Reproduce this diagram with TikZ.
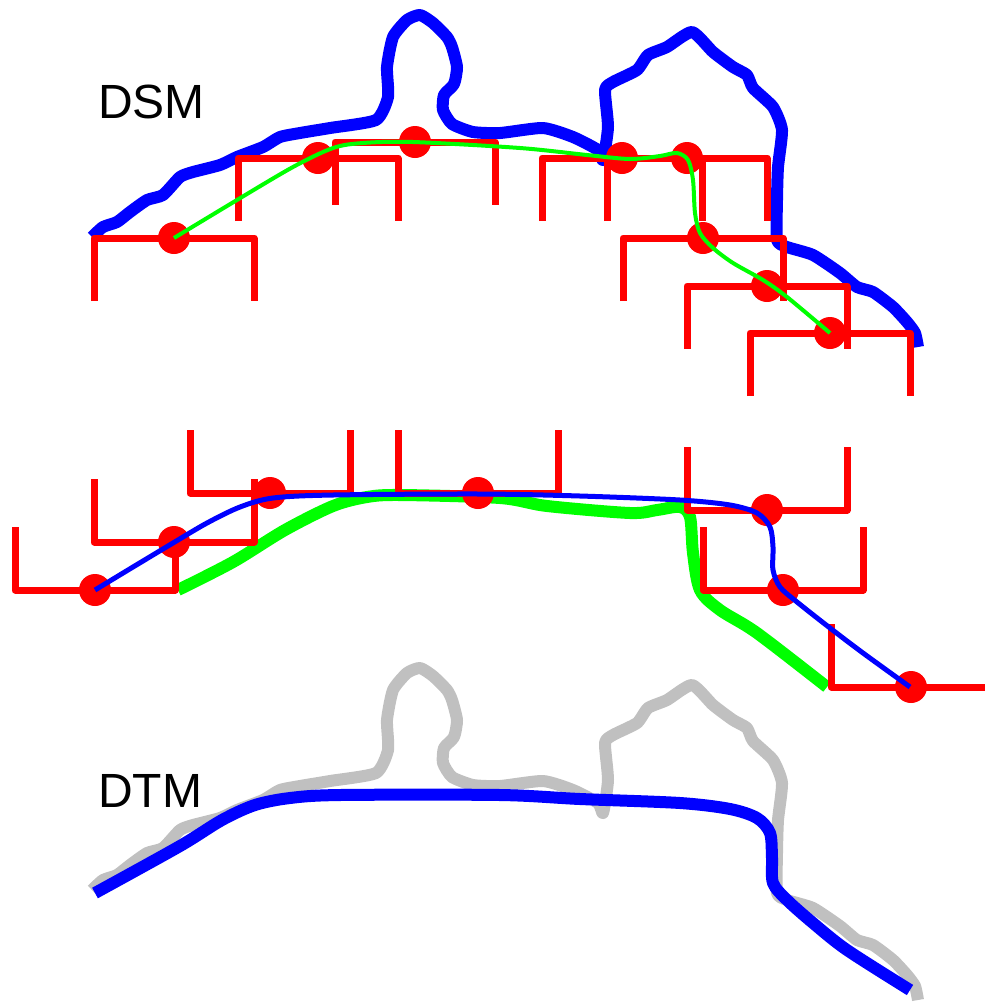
\documentclass[tikz,border=0pt]{standalone}
\usepackage{fontspec}
\setmainfont{Liberation Sans}
\usepackage{tikz}

\definecolor{hellgrau}{RGB}{192,192,192}

\begin{document}
\begin{tikzpicture}[x=1pt,y=-1pt,
    huegel/.style={line width=12pt,line join=round},
    klammer/.style={red,line width=7pt,line join=round},
    punkt/.style={red},
]
    \useasboundingbox (0,0) rectangle (985,1005);

    % DSM 轮廓（上方蓝线，下方灰线共用）
    \def\dsmline{plot[smooth,tension=0.35] coordinates {(92,237) (103,227) (117,222) (130,212) (147,200) (163,195) (180,177) (193,172) (220,165) (237,157) (263,147) (280,137) (300,133) (330,128) (376,120) (388,97) (387,67) (393,37) (407,20) (420,15) (433,23) (447,37) (452,47) (457,67) (454,84) (444,95) (443,110) (452,124) (473,132) (500,133) (543,128) (573,137) (598,150) (603,160) (608,127) (605,90) (613,82) (637,70) (648,55) (667,47) (692,32) (713,52) (733,67) (747,75) (753,88) (773,107) (782,130) (778,167) (777,200) (777,240) (787,247) (813,255) (840,273) (857,287) (873,292) (893,307) (907,322) (915,333) (918,347)}}
    \def\breite{160} % 结构元素宽度
    \def\hoehe{63}   % 结构元素高度

    \draw[huegel,blue] \dsmline;

    % 上方结构元素
    \foreach \x/\y in {94/238, 238/158, 335/142, 542/158, 607/158, 623/238, 687/286, 750/333}
        \draw[klammer] (\x,\y+\hoehe) -- (\x,\y) -- (\x+\breite,\y) -- (\x+\breite,\y+\hoehe);
    \foreach \x/\y in {94/238, 238/158, 335/142, 542/158, 607/158, 623/238, 687/286, 750/333}
        \fill[punkt] (\x+\breite/2,\y) circle (16);

    \draw[green,line width=4pt] plot[smooth,tension=0.5] coordinates {(174,238) (237,200) (293,167) (333,148) (363,143) (413,142) (520,148) (587,155) (630,159) (660,156) (677,153) (688,160) (693,180) (695,213) (700,233) (713,248) (733,263) (763,280) (787,297) (830,333)};

    % 中间：翻转的结构元素
    \draw[green,line width=12pt] plot[smooth,tension=0.5] coordinates {(178,590) (233,562) (285,530) (333,506) (367,497) (400,495) (500,498) (547,506) (630,513) (657,510) (680,507) (690,517) (693,553) (700,590) (720,610) (757,633) (827,687)};

    \foreach \x/\y in {15/590, 94/542, 190/493, 398/493, 687/510, 703/590, 831/687}
        \draw[klammer] (\x,\y-\hoehe) -- (\x,\y) -- (\x+\breite,\y) -- (\x+\breite,\y-\hoehe);
    \foreach \x/\y in {15/590, 94/542, 190/493, 398/493, 687/510, 703/590, 831/687}
        \fill[punkt] (\x+\breite/2,\y) circle (16);

    \draw[blue,line width=5pt] plot[smooth,tension=0.5] coordinates {(95,590) (133,567) (173,543) (207,523) (240,507) (273,498) (333,495) (480,494) (580,496) (680,500) (730,505) (757,513) (770,527) (773,547) (773,570) (780,587) (797,602) (830,628) (863,653) (910,687)};

    % 下方 DTM
    \draw[huegel,hellgrau,shift={(0,653)}] \dsmline;
    \draw[huegel,blue] plot[smooth,tension=0.5] coordinates {(95,893) (180,846) (222,820) (255,805) (290,798) (340,795) (500,795) (580,799) (680,803) (730,809) (757,818) (770,833) (772,858) (773,883) (787,900) (813,923) (847,950) (910,990)};

    \node[anchor=base west,inner sep=0pt,font=\fontsize{48}{56}\selectfont] (dsmtext) at (98,118) {DSM};
    \node[anchor=base west,inner sep=0pt,font=\fontsize{48}{56}\selectfont] (dtmtext) at (98,807) {DTM};
\end{tikzpicture}
\end{document}
